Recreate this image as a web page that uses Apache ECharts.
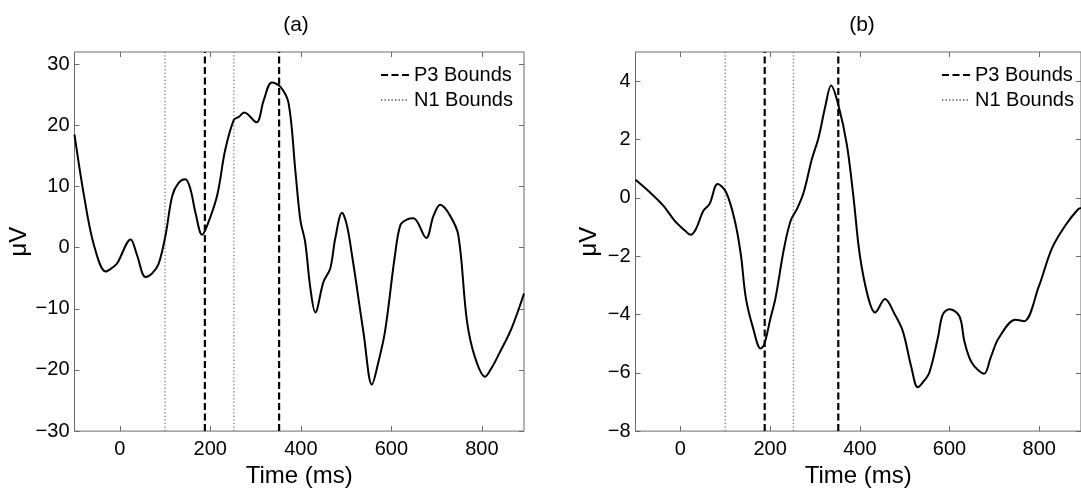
<!DOCTYPE html>
<html>
<head>
<meta charset="utf-8">
<script src="https://cdn.jsdelivr.net/npm/echarts@6/dist/echarts.min.js"></script>
<style>html,body{margin:0;padding:0;background:#fff}#c{width:1081px;height:493px}</style>
</head>
<body>
<div id="c"></div>
<script>
// ---- data ----
const panelTitles = ['(a)', '(b)'];
const xTicks = [0, 200, 400, 600, 800];
const leftYTicks = [-30, -20, -10, 0, 10, 20, 30];
const rightYTicks = [-8, -6, -4, -2, 0, 2, 4];
const p3Bounds = [188, 352];
const n1Bounds = [100, 252];

const leftTime = [-100, -79, -57, -31, -17, -6, 24, 38, 57, 71.5, 86, 101, 116, 130, 145, 156, 167, 182, 193, 215, 233, 252, 263, 275, 302, 318, 336, 355, 373, 388, 399, 409.6, 421, 432, 450, 465, 476, 491, 502, 513, 524, 539, 557, 572, 586, 608, 620, 634, 649, 677, 693, 708, 730, 748, 767, 785, 807, 822, 837, 866, 893];
const leftValues = [18.5, 8.5, 0.4, -3.9, -3.3, -2.6, 1.35, -1.2, -4.8, -4.2, -2.6, 2, 8.5, 10.6, 11.2, 9.6, 5.8, 2.1, 3.6, 8.5, 16, 20.9, 21.4, 22.1, 20.5, 24.1, 27, 26.3, 23.6, 12.5, 4.5, 0.9, -6.6, -10.6, -5.6, -3.4, 1.5, 5.7, 3.6, -1.2, -6.6, -14.2, -22.4, -18.5, -13.7, -1.2, 3.7, 4.6, 4.8, 1.6, 5.2, 7, 5.2, 2, -12, -18, -21.1, -19.6, -17.5, -13.1, -7.5];

const rightTime = [-100, -68, -38, -13, 10, 23, 35, 51, 65, 83, 102, 122, 135, 146, 162, 179, 187, 201, 212, 231, 246, 260, 275, 293, 308, 323, 336, 352, 371, 386, 400, 419, 434, 456, 478, 496, 515, 529, 540.5, 555, 574, 585, 600, 622, 632.7, 644, 655, 677, 691.6, 710, 747, 766, 799, 828, 858, 886, 893];
const rightValues = [0.62, 0.19, -0.27, -0.78, -1.12, -1.27, -1.06, -0.45, -0.21, 0.47, 0.19, -0.83, -1.97, -3.44, -4.46, -5.17, -5.03, -4.12, -3.44, -1.74, -0.78, -0.38, 0.19, 1.32, 2.06, 3.13, 3.85, 3.19, 1.83, 0.0, -1.97, -3.44, -3.93, -3.47, -4.0, -4.58, -5.82, -6.5, -6.33, -5.99, -4.8, -4.0, -3.82, -4.06, -4.9, -5.48, -5.77, -6.03, -5.48, -4.8, -4.18, -4.23, -3.04, -1.74, -0.95, -0.4, -0.35];

// ---- styling ----
const FONT = "'Liberation Sans', Arial, Helvetica, sans-serif";
const frame = '#6a6a6a';
const xMin = -100, xMax = 893;
const minus = v => String(v).replace('-', '\u2212');

function xAxes(grid) {
  return [
    {
      type: 'value', gridIndex: grid, min: xMin, max: xMax, position: 'bottom',
      axisLine: { show: false, onZero: false }, splitLine: { show: false },
      axisTick: { inside: true, length: 5, lineStyle: { color: frame }, customValues: xTicks },
      axisLabel: { customValues: xTicks, color: '#000', fontFamily: FONT, fontSize: 20, margin: 8, formatter: minus },
      name: 'Time (ms)', nameLocation: 'middle', nameGap: 26,
      nameTextStyle: { color: '#000', fontFamily: FONT, fontSize: 24, verticalAlign: 'top' }
    },
    {
      type: 'value', gridIndex: grid, min: xMin, max: xMax, position: 'top',
      axisLine: { show: false, onZero: false }, splitLine: { show: false },
      axisTick: { inside: true, length: 5, lineStyle: { color: frame }, customValues: xTicks },
      axisLabel: { show: false }
    }
  ];
}
function yAxes(grid, min, max, ticks) {
  return [
    {
      type: 'value', gridIndex: grid, min: min, max: max, position: 'left',
      axisLine: { show: false, onZero: false }, splitLine: { show: false },
      axisTick: { inside: true, length: 5, lineStyle: { color: frame }, customValues: ticks },
      axisLabel: { customValues: ticks, color: '#000', fontFamily: FONT, fontSize: 20, margin: 5, formatter: minus },
      name: '\u03BCV', nameLocation: 'middle', nameGap: 34, nameRotate: 90,
      nameTextStyle: { color: '#000', fontFamily: FONT, fontSize: 24 }
    },
    {
      type: 'value', gridIndex: grid, min: min, max: max, position: 'right',
      axisLine: { show: false, onZero: false }, splitLine: { show: false },
      axisTick: { inside: true, length: 5, lineStyle: { color: frame }, customValues: ticks },
      axisLabel: { show: false }
    }
  ];
}

const dashStyle = { color: '#000', width: 2.2, type: [7, 3.5] };
const dotStyle = { color: '#777', width: 1.3, type: [1.3, 2.2] };

function boundSeries(name, bounds, xi, yi, yMin, yMax, style) {
  return bounds.map(b => ({
    name: name, type: 'line', xAxisIndex: xi, yAxisIndex: yi,
    data: [[b, yMin], [b, yMax]],
    symbol: 'none', showSymbol: false, silent: true,
    lineStyle: style, itemStyle: { color: style.color }, z: 2
  }));
}

function panelSeries(xi, yi, times, values, yMin, yMax) {
  return [
    {
      name: 'curve' + xi, type: 'line', xAxisIndex: xi, yAxisIndex: yi,
      data: times.map((t, i) => [t, values[i]]),
      showSymbol: false, symbol: 'none', smooth: 0.35,
      lineStyle: { color: '#000', width: 2 }, z: 3, silent: true
    },
    ...boundSeries('P3 Bounds', p3Bounds, xi, yi, yMin, yMax, dashStyle),
    ...boundSeries('N1 Bounds', n1Bounds, xi, yi, yMin, yMax, dotStyle)
  ];
}

function legendAt(left) {
  return {
    orient: 'vertical', left: left, top: 65, padding: 0, itemGap: 5,
    itemWidth: 28, itemHeight: 14, align: 'left', selectedMode: false,
    icon: 'inherit',
    itemStyle: { opacity: 0 },
    data: ['P3 Bounds', 'N1 Bounds'],
    textStyle: { color: '#000', fontFamily: FONT, fontSize: 20, lineHeight: 20 }
  };
}

const chart = echarts.init(document.getElementById('c'), null, { renderer: 'canvas' });
chart.setOption({
  animation: false,
  backgroundColor: '#fff',
  grid: [
    { left: 74.5, top: 52, width: 449.5, height: 382, show: true, borderColor: frame, borderWidth: 1, backgroundColor: 'transparent' },
    { left: 635.5, top: 52, width: 449.5, height: 382, show: true, borderColor: frame, borderWidth: 1, backgroundColor: 'transparent' }
  ],
  xAxis: [...xAxes(0), ...xAxes(1)],
  yAxis: [...yAxes(0, -30, 32, leftYTicks), ...yAxes(1, -8, 5, rightYTicks)],
  legend: [legendAt(380), legendAt(941)],
  graphic: [
    { type: 'text', x: 296, y: 25, style: { text: panelTitles[0], fill: '#000', font: '21px ' + FONT, textAlign: 'center', textVerticalAlign: 'middle' } },
    { type: 'text', x: 862, y: 25, style: { text: panelTitles[1], fill: '#000', font: '21px ' + FONT, textAlign: 'center', textVerticalAlign: 'middle' } }
  ],
  series: [
    ...panelSeries(0, 0, leftTime, leftValues, -30, 32),
    ...panelSeries(2, 2, rightTime, rightValues, -8, 5)
  ]
});
</script>
</body>
</html>
